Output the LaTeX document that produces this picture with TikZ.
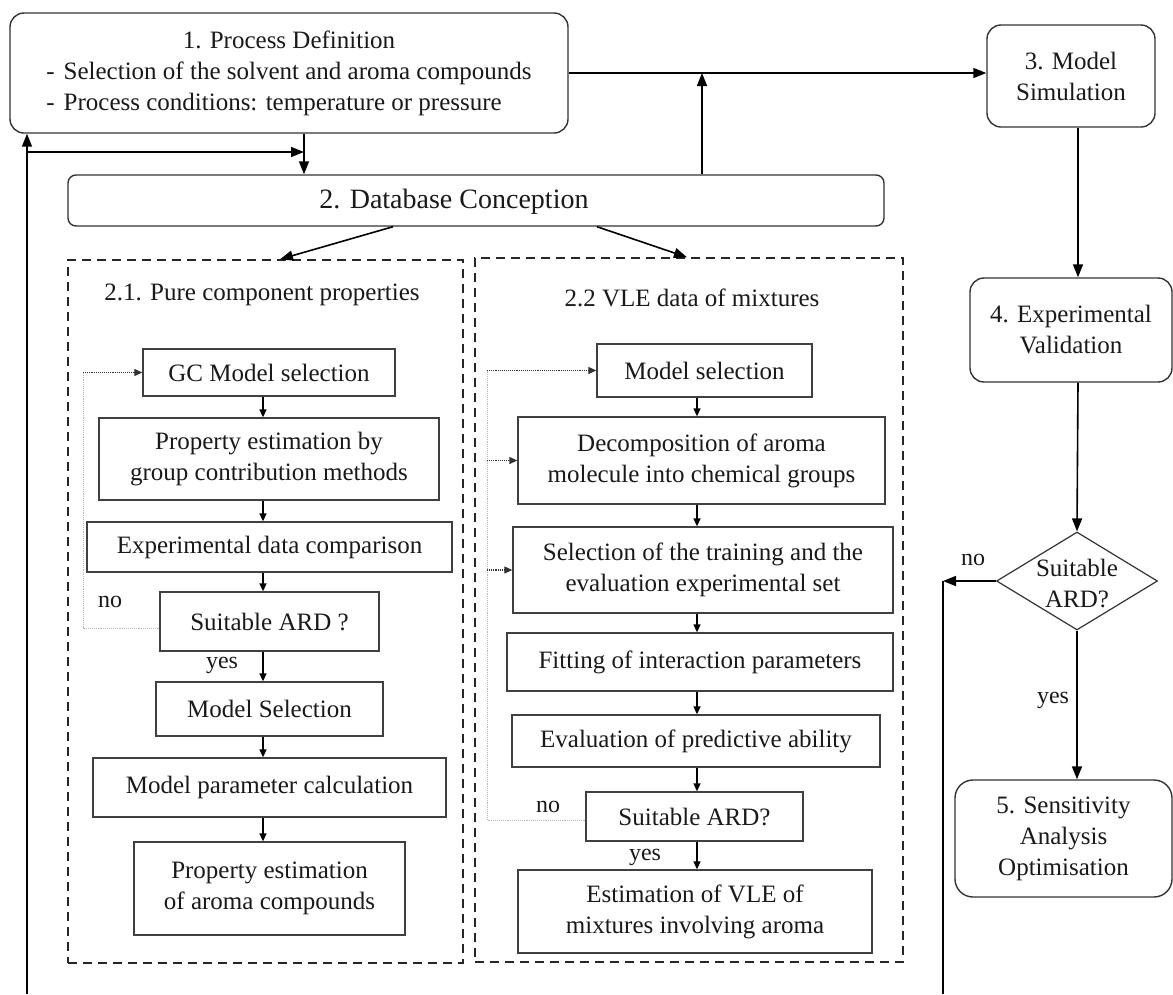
\documentclass[tikz,border=0pt]{standalone}
\usepackage{fontspec}
\setmainfont{Liberation Serif}
\usetikzlibrary{arrows.meta,shapes.geometric}
\begin{document}
\begin{tikzpicture}[x=1pt,y=-1pt,
  every node/.style={font=\fontsize{25}{31}\selectfont, inner sep=0pt, text=black!90},
  rbox/.style={draw=black!80, line width=1.4pt, rounded corners=14pt, align=center},
  sbox/.style={draw=black!75, line width=1.3pt, align=center},
  dbox/.style={draw=black!85, line width=1.5pt, dash pattern=on 9pt off 6pt},
  conn/.style={line width=1.6pt, -{Triangle[length=13pt,width=10pt]}},
  iconn/.style={line width=1.3pt, -{Triangle[length=8pt,width=7pt]}},
  fb/.style={draw=gray!55, line width=0.9pt, densely dotted},
  fbarrow/.style={draw=black!80, line width=1.1pt, densely dotted, -{Triangle[length=8pt,width=7pt]}},
  lbl/.style={font=\fontsize{24}{28}\selectfont}
]
\useasboundingbox (0,0) rectangle (1173,994);

% helper coordinates
\coordinate (c1) at (263,0);
\coordinate (c2) at (697,0);
\coordinate (c3) at (1078,0);
\coordinate (upx) at (702,0);
\coordinate (pdx) at (304,0);
\coordinate (lb) at (27,994);
\coordinate (lh) at (27,152);
\coordinate (nb) at (943,994);
\coordinate (nc) at (943,581);
\coordinate (f1) at (83,0);
\coordinate (f2) at (487,0);
\coordinate (s21) at (393,0);
\coordinate (e21) at (280,0);
\coordinate (s22) at (597,0);
\coordinate (e22) at (687,0);
\coordinate (y1) at (0,628);
\coordinate (y2) at (0,820);

% main boxes
\node[rbox, minimum width=558, minimum height=120] (pd) at (289,73)
  {\begin{tabular}{@{}l@{}}\multicolumn{1}{@{}c@{}}{1. Process Definition}\\-\hspace{9pt}Selection of the solvent and aroma compounds\\-\hspace{9pt}Process conditions: temperature or pressure\end{tabular}};
\node[rbox, minimum width=168, minimum height=102] (ms) at (1071,76) {3. Model\\Simulation};
\node[rbox, minimum width=202, minimum height=104] (ev) at (1071,330) {4. Experimental\\Validation};
\node[draw=black!80, line width=1.2pt, diamond, minimum width=161, minimum height=98] (dia) at (1077,581) {};
\node[align=center] (diat) at (1077,583) {Suitable\\ARD?};
\node[rbox, rounded corners=18pt, minimum width=217, minimum height=117] (sa) at (1063.5,838.5) {5. Sensitivity\\Analysis\\Optimisation};

\node[rbox, rounded corners=8pt, minimum width=816, minimum height=51] (db) at (476,200.5) {};
\node[font=\fontsize{28}{34}\selectfont] (dbt) at (454,202) {2. Database Conception};

% dashed groups
\node[dbox, minimum width=395, minimum height=703] (d21) at (265.5,611.5) {};
\node[dbox, minimum width=428, minimum height=704] (d22) at (689,610) {};
\node (t21) at (262,295) {2.1. Pure component properties};
\node (t22) at (692,298) {2.2 VLE data of mixtures};

% column 2.1
\node[sbox, minimum width=252, minimum height=47] (gc) at (269,372.5) {GC Model selection};
\node[sbox, minimum width=340, minimum height=82] (pe) at (269,459) {Property estimation by\\group contribution methods};
\node[sbox, minimum width=365, minimum height=50] (edc) at (269.5,547) {Experimental data comparison};
\node[sbox, minimum width=219, minimum height=59] (sa1) at (269.5,621.5) {Suitable ARD ?};
\node[sbox, minimum width=227, minimum height=54] (msel) at (269.5,709) {Model Selection};
\node[sbox, minimum width=353, minimum height=59] (mpc) at (269.5,787.5) {Model parameter calculation};
\node[sbox, minimum width=271, minimum height=93] (pea) at (269.5,888.5) {Property estimation\\of aroma compounds};

% column 2.2
\node[sbox, minimum width=215, minimum height=53] (ms2) at (704.5,370.5) {Model selection};
\node[sbox, minimum width=367, minimum height=87] (dec) at (701.5,460.5) {Decomposition of aroma\\molecule into chemical groups};
\node[sbox, minimum width=380, minimum height=86] (sel) at (703,570) {Selection of the training and the\\evaluation experimental set};
\node[sbox, minimum width=386, minimum height=58] (fit) at (700,662) {Fitting of interaction parameters};
\node[sbox, minimum width=368, minimum height=52] (eva) at (696,741) {Evaluation of predictive ability};
\node[sbox, minimum width=217, minimum height=49] (sa2) at (694.5,816.5) {Suitable ARD?};
\node[sbox, minimum width=354, minimum height=83] (est) at (695,911.5) {Estimation of VLE of\\mixtures involving aroma};

% labels
\node[lbl] (no1) at (110,602) {no};
\node[lbl] (yes1) at (222,665) {yes};
\node[lbl] (no2) at (548,807) {no};
\node[lbl] (yes2) at (645,857) {yes};
\node[lbl] (no3) at (973,560) {no};
\node[lbl] (yes3) at (1053,700) {yes};

% top connectors
\draw[conn] (pd.east) -- (pd.east -| ms.west);
\draw[conn] (db.north -| upx) -- (pd.east -| upx);
\draw[conn] (pd.south -| pdx) -- (db.north -| pdx);
\draw[conn] (lb) -- (pd.south -| lb);
\draw[conn] (lh) -- (lh -| pdx);
\draw[conn] (db.south -| s21) -- (d21.north -| e21);
\draw[conn] (db.south -| s22) -- (d22.north -| e22);

% right column
\draw[conn] (ms.south -| c3) -- (ev.north -| c3);
\draw[conn] (ev.south -| c3) -- (dia.north);
\draw[conn] (dia.south) -- (sa.north -| dia.south);
\draw[conn] (dia.west) -- (nc);
\draw[line width=1.6pt] (nc) -- (nb);

% column 2.1 arrows
\draw[iconn] (gc.south -| c1) -- (pe.north -| c1);
\draw[iconn] (pe.south -| c1) -- (edc.north -| c1);
\draw[iconn] (edc.south -| c1) -- (sa1.north -| c1);
\draw[iconn] (sa1.south -| c1) -- (msel.north -| c1);
\draw[iconn] (msel.south -| c1) -- (mpc.north -| c1);
\draw[iconn] (mpc.south -| c1) -- (pea.north -| c1);

% column 2.2 arrows
\draw[iconn] (ms2.south -| c2) -- (dec.north -| c2);
\draw[iconn] (dec.south -| c2) -- (sel.north -| c2);
\draw[iconn] (sel.south -| c2) -- (fit.north -| c2);
\draw[iconn] (fit.south -| c2) -- (eva.north -| c2);
\draw[iconn] (eva.south -| c2) -- (sa2.north -| c2);
\draw[iconn] (sa2.south -| c2) -- (est.north -| c2);

% feedback loops
\draw[fb] (sa1.west |- y1) -- (f1 |- y1) -- (f1 |- gc.west);
\draw[fbarrow] (f1 |- gc.west) -- (gc.west);
\draw[fb] (sa2.west |- y2) -- (f2 |- y2) -- (f2 |- ms2.west);
\draw[fbarrow] (f2 |- ms2.west) -- (ms2.west);
\draw[fbarrow] (f2 |- dec.west) -- (dec.west);
\draw[fbarrow] (f2 |- sel.west) -- (sel.west);
\end{tikzpicture}
\end{document}
